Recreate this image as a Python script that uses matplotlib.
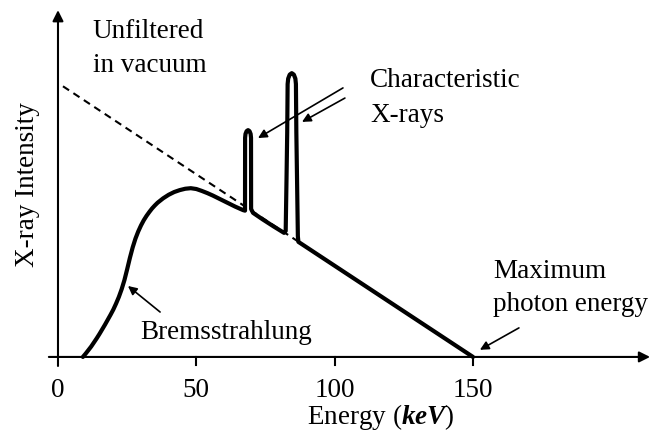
#!/usr/bin/env python
# X-ray tube spectrum sketch: Bremsstrahlung + characteristic lines
import matplotlib
matplotlib.use('Agg')
from matplotlib import pyplot as plt

plt.rcParams['font.family'] = ['Liberation Serif', 'DejaVu Serif']
plt.rcParams['mathtext.fontset'] = 'custom'
plt.rcParams['mathtext.rm'] = 'Liberation Serif'
plt.rcParams['mathtext.it'] = 'Liberation Serif:italic:bold'

# unfiltered spectrum (straight line, dashed)
unfilt_x = [1.8, 150]
unfilt_y = [98.8, 0]

# filtered spectrum (energy keV, relative intensity)
# continuum up to the first line
brems_x = [9, 10, 11, 12, 13, 14, 15, 16, 17, 18, 19, 20, 21, 22, 23, 24, 25,
           26, 27, 28, 29, 30, 31, 32, 33, 34, 35, 36, 38, 40, 42, 44, 46, 48,
           50, 52, 54, 56, 58, 60, 62, 64, 66, 66.9]
brems_y = [0, 1.2, 2.5, 3.8, 5.3, 6.8, 8.4, 10.1, 11.8, 13.6, 15.4, 17.3, 19.5,
           21.9, 24.7, 28.0, 32.0, 36.2, 40.0, 43.2, 45.8, 48.0, 49.9, 51.5,
           52.9, 54.2, 55.3, 56.3, 57.9, 59.2, 60.2, 60.9, 61.4, 61.6,
           61.3, 60.6, 59.8, 58.9, 57.9, 56.9, 55.9, 54.9, 54.0, 53.6]
# first characteristic line and the continuum after it
line1_x = [67.6, 67.63, 67.77, 68.17, 68.7, 69.23, 69.63, 69.77, 69.8,
           70.5, 74.0, 78.0, 81.7]
line1_y = [53.4, 80.0, 81.4, 82.42, 82.8, 82.42, 81.4, 80.0, 54.0,
           52.6, 50.2, 47.6, 45.3]
# second characteristic line and the tail to the end-point energy
line2_x = [82.3, 82.6, 82.85, 83.0, 83.2, 83.75, 84.5, 85.25, 85.8, 86.0,
           86.15, 86.4, 86.7, 86.9, 150.0]
line2_y = [46.0, 65.0, 82.0, 99.6, 101.6, 103.06, 103.6, 103.06, 101.6,
           99.6, 82.0, 65.0, 44.0, 42.0, 0.0]

energy = brems_x + line1_x + line2_x
intensity = brems_y + line1_y + line2_y

ticks = [50, 100, 150]
tick_labels = ['0', '50', '100', '150']
fs = 19.5

fig = plt.figure(figsize=(6.52, 4.32), dpi=100)
ax = fig.add_axes([0, 0, 1, 1])
ax.set_xlim(-20.96, 214.7)
ax.set_ylim(-27.4, 130.3)
ax.axis('off')

# axes with arrow heads
ax.annotate('', xy=(214.0, 0), xytext=(-3.3, 0),
            arrowprops=dict(arrowstyle='-|>', lw=1.5, color='black',
                            mutation_scale=16, shrinkA=0, shrinkB=0))
ax.annotate('', xy=(0, 126.6), xytext=(0, -3.3),
            arrowprops=dict(arrowstyle='-|>', lw=1.5, color='black',
                            mutation_scale=16, shrinkA=0, shrinkB=0))
for t in ticks:
    ax.plot([t, t], [0, -2.9], color='black', lw=1.5)
for t, lab in zip([0] + ticks, tick_labels):
    ax.text(t, -14.6, lab, ha='center', va='baseline', fontsize=fs)

ax.plot(unfilt_x, unfilt_y, color='black', lw=1.5, ls=(0, (3.5, 2.5)))
ax.plot(energy, intensity, color='black', lw=3.0,
        solid_joinstyle='round', solid_capstyle='round')

# labels
ax.text(90.0, -24.5, r'Energy ($keV$)', ha='left', va='baseline', fontsize=fs)
ax.text(-11.2, 62.8, 'X-ray Intensity', rotation=90, ha='center', va='center',
        fontsize=fs)
ax.text(12.6, 116.4, 'Unfiltered', ha='left', va='baseline', fontsize=fs)
ax.text(12.6, 104.0, 'in vacuum', ha='left', va='baseline', fontsize=fs)
ax.text(112.8, 98.5, 'Characteristic', ha='left', va='baseline', fontsize=fs)
ax.text(112.8, 85.8, 'X-rays', ha='left', va='baseline', fontsize=fs)
ax.text(157.2, 28.8, 'Maximum', ha='left', va='baseline', fontsize=fs)
ax.text(157.2, 16.8, 'photon energy', ha='left', va='baseline', fontsize=fs)
ax.text(29.6, 6.6, 'Bremsstrahlung', ha='left', va='baseline', fontsize=fs)

# pointer arrows
arr = dict(arrowstyle='-|>', lw=1.2, color='black', mutation_scale=13,
           shrinkA=0, shrinkB=0)
ax.annotate('', xy=(25.3, 25.9), xytext=(36.9, 16.4), arrowprops=arr)
ax.annotate('', xy=(152.5, 2.6), xytext=(166.6, 10.6), arrowprops=arr)
ax.annotate('', xy=(72.3, 79.9), xytext=(103.0, 98.2), arrowprops=arr)
ax.annotate('', xy=(88.2, 85.8), xytext=(103.7, 94.5), arrowprops=arr)

plt.savefig('out.png', dpi=100)
